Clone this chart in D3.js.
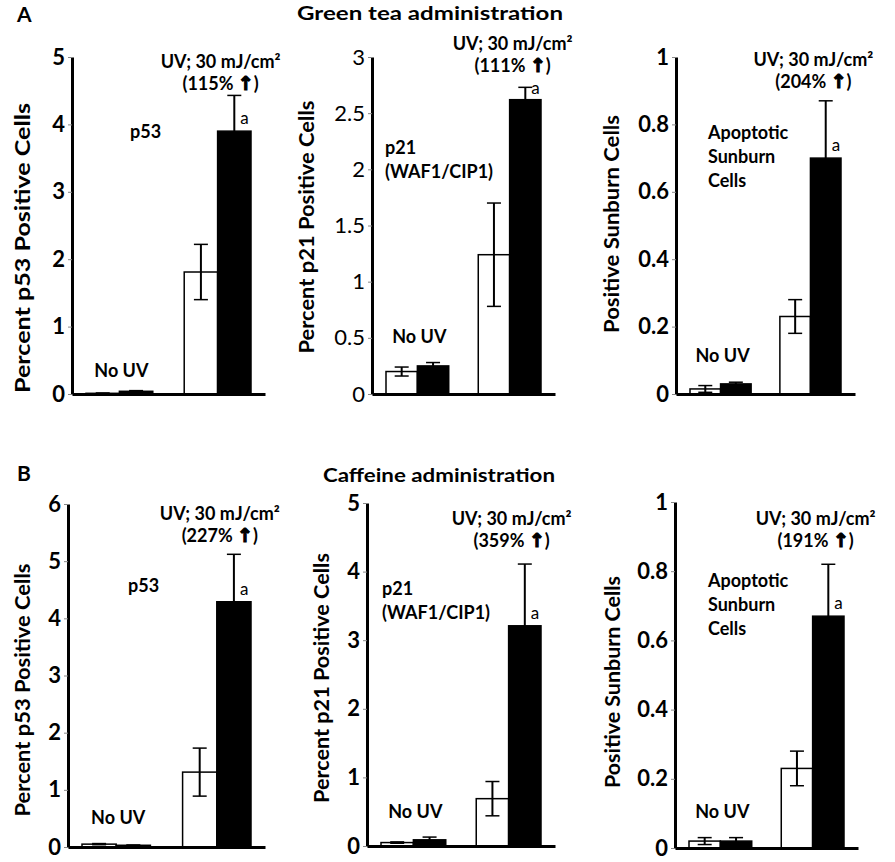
<!DOCTYPE html>
<html lang="en">
<head>
<meta charset="UTF-8">
<script src="https://d3js.org/d3.v7.min.js"></script>
<title>Green tea and caffeine administration</title>
<style>
  body { margin: 0; background: #fff; }
  svg { font-family: Lato, "Open Sans", sans-serif; }
</style>
</head>
<body>
<script>
// groups on the x axis
var groups = ["No UV", "UV"];

// tick labels
var ticksTeaP53 = [0, 1, 2, 3, 4, 5];
var ticksTeaP21 = [0, 0.5, 1, 1.5, 2, 2.5, 3];
var ticksTeaSun = [0, 0.2, 0.4, 0.6, 0.8, 1];
var ticksCafP53 = [0, 1, 2, 3, 4, 5, 6];
var ticksCafP21 = [0, 1, 2, 3, 4, 5];
var ticksCafSun = [0, 0.2, 0.4, 0.6, 0.8, 1];

// white bars (control) and black bars (treated), [No UV, UV]
var teaP53White = [0.01, 1.81], teaP53WhiteErr = [0.005, 0.41];
var teaP53Black = [0.04, 3.90], teaP53BlackErr = [0.01, 0.53];
var teaP21White = [0.20, 1.24], teaP21WhiteErr = [0.04, 0.46];
var teaP21Black = [0.25, 2.62], teaP21BlackErr = [0.03, 0.11];
var teaSunWhite = [0.015, 0.23], teaSunWhiteErr = [0.01, 0.05];
var teaSunBlack = [0.03, 0.70], teaSunBlackErr = [0.005, 0.17];
var cafP53White = [0.05, 1.31], cafP53WhiteErr = [0.01, 0.42];
var cafP53Black = [0.03, 4.29], cafP53BlackErr = [0.005, 0.83];
var cafP21White = [0.05, 0.69], cafP21WhiteErr = [0.01, 0.25];
var cafP21Black = [0.09, 3.21], cafP21BlackErr = [0.04, 0.90];
var cafSunWhite = [0.02, 0.23], cafSunWhiteErr = [0.01, 0.05];
var cafSunBlack = [0.02, 0.67], cafSunBlackErr = [0.01, 0.15];

// percent increase labels
var percents = ["115%", "111%", "204%", "227%", "359%", "191%"];

var width = 895, height = 862;

var svg = d3.select("body").append("svg")
  .attr("width", width)
  .attr("height", height);

var panels = [
  { x0: 72, x1: 265, yTop: 57, yBot: 394, ticks: ticksTeaP53, bold: true,
    white: teaP53White, whiteErr: teaP53WhiteErr, black: teaP53Black, blackErr: teaP53BlackErr,
    label: "Percent p53 Positive Cells", labelX: 30, labelY: 248, labelLen: 290,
    uvY: 68, noUvY: 377, marker: ["p53"], markerX: 130, markerY: 138, pct: percents[0] },
  { x0: 372, x1: 555, yTop: 57, yBot: 394, ticks: ticksTeaP21, bold: false,
    white: teaP21White, whiteErr: teaP21WhiteErr, black: teaP21Black, blackErr: teaP21BlackErr,
    label: "Percent p21 Positive Cells", labelX: 314, labelY: 227, labelLen: 253,
    uvY: 50, noUvY: 343, marker: ["p21", "(WAF1/CIP1)"], markerX: 385, markerY: 154, pct: percents[1] },
  { x0: 676, x1: 855, yTop: 57, yBot: 394, ticks: ticksTeaSun, bold: true,
    white: teaSunWhite, whiteErr: teaSunWhiteErr, black: teaSunBlack, blackErr: teaSunBlackErr,
    label: "Positive Sunburn Cells", labelX: 619, labelY: 224, labelLen: 218,
    uvY: 66, noUvY: 362, marker: ["Apoptotic", "Sunburn", "Cells"], markerX: 708, markerY: 139, pct: percents[2] },
  { x0: 68, x1: 265, yTop: 504, yBot: 847, ticks: ticksCafP53, bold: true,
    white: cafP53White, whiteErr: cafP53WhiteErr, black: cafP53Black, blackErr: cafP53BlackErr,
    label: "Percent p53 Positive Cells", labelX: 30, labelY: 690, labelLen: 253,
    uvY: 520, noUvY: 824, marker: ["p53"], markerX: 128, markerY: 592, pct: percents[3] },
  { x0: 367, x1: 555, yTop: 503, yBot: 846, ticks: ticksCafP21, bold: true,
    white: cafP21White, whiteErr: cafP21WhiteErr, black: cafP21Black, blackErr: cafP21BlackErr,
    label: "Percent p21 Positive Cells", labelX: 329, labelY: 678, labelLen: 250,
    uvY: 525, noUvY: 818, marker: ["p21", "(WAF1/CIP1)"], markerX: 382, markerY: 595, pct: percents[4] },
  { x0: 675, x1: 858, yTop: 502, yBot: 848, ticks: ticksCafSun, bold: true,
    white: cafSunWhite, whiteErr: cafSunWhiteErr, black: cafSunBlack, blackErr: cafSunBlackErr,
    label: "Positive Sunburn Cells", labelX: 620, labelY: 682, labelLen: 212,
    uvY: 525, noUvY: 818, marker: ["Apoptotic", "Sunburn", "Cells"], markerX: 708, markerY: 587, pct: percents[5] }
];

// figure letters and titles
svg.append("text").attr("x", 17).attr("y", 22).attr("font-size", 21).attr("font-weight", 700).text("A");
svg.append("text").attr("x", 17).attr("y", 481).attr("font-size", 21).attr("font-weight", 700).text("B");
svg.append("text").attr("x", 430).attr("y", 20).attr("text-anchor", "middle")
  .attr("font-size", 19).attr("font-weight", 700)
  .attr("textLength", 266).attr("lengthAdjust", "spacingAndGlyphs")
  .text("Green tea administration");
svg.append("text").attr("x", 439).attr("y", 482).attr("text-anchor", "middle")
  .attr("font-size", 19).attr("font-weight", 700)
  .attr("textLength", 232).attr("lengthAdjust", "spacingAndGlyphs")
  .text("Caffeine administration");

panels.forEach(function (p) {
  var g = svg.append("g");
  var ymax = p.ticks[p.ticks.length - 1];
  var y = d3.scaleLinear().domain([0, ymax]).range([p.yBot, p.yTop]);
  var x = d3.scaleBand().domain(groups).range([p.x0 + 14, p.x1 - 14]).paddingInner(0.32);
  var xs = d3.scaleBand().domain(["white", "black"]).range([0, x.bandwidth()]);

  // y axis
  var yAxis = g.append("g")
    .attr("transform", "translate(" + p.x0 + ",0)")
    .call(d3.axisLeft(y).tickValues(p.ticks).tickSize(4).tickSizeOuter(0).tickPadding(3)
      .tickFormat(function (d) { return String(d); }));
  yAxis.select(".domain").attr("stroke-width", 3);
  yAxis.selectAll(".tick line").attr("stroke", "#888").attr("stroke-width", 1);
  yAxis.selectAll(".tick text")
    .attr("font-family", "Lato, sans-serif")
    .attr("font-size", 22)
    .attr("font-weight", p.bold ? 700 : 400)
    .attr("fill", "#000");

  // x axis
  var xAxis = g.append("g")
    .attr("transform", "translate(0," + p.yBot + ")")
    .call(d3.axisBottom(d3.scaleLinear().range([p.x0, p.x1])).tickValues([]).tickSizeOuter(0));
  xAxis.select(".domain").attr("stroke-width", 3);

  var rows = groups.map(function (k, i) {
    return [
      { grp: k, s: "white", v: p.white[i], e: p.whiteErr[i] },
      { grp: k, s: "black", v: p.black[i], e: p.blackErr[i] }
    ];
  });
  var bars = [].concat.apply([], rows);

  // error bars (under the bars so the black ones hide their lower half)
  var cap = 7;
  var eb = g.selectAll("g.err").data(bars).enter().append("g").attr("class", "err");
  eb.append("line")
    .attr("x1", function (d) { return x(d.grp) + xs(d.s) + xs.bandwidth() / 2; })
    .attr("x2", function (d) { return x(d.grp) + xs(d.s) + xs.bandwidth() / 2; })
    .attr("y1", function (d) { return y(d.v - d.e); })
    .attr("y2", function (d) { return y(d.v + d.e); })
    .attr("stroke", "#000").attr("stroke-width", 2);
  [1, -1].forEach(function (sgn) {
    eb.append("line")
      .attr("x1", function (d) { return x(d.grp) + xs(d.s) + xs.bandwidth() / 2 - cap; })
      .attr("x2", function (d) { return x(d.grp) + xs(d.s) + xs.bandwidth() / 2 + cap; })
      .attr("y1", function (d) { return y(d.v + sgn * d.e); })
      .attr("y2", function (d) { return y(d.v + sgn * d.e); })
      .attr("stroke", "#000").attr("stroke-width", 1.5);
  });

  g.selectAll("rect.bar").data(bars).enter().append("rect")
    .attr("class", "bar")
    .attr("x", function (d) { return x(d.grp) + xs(d.s); })
    .attr("width", xs.bandwidth())
    .attr("y", function (d) { return y(d.v); })
    .attr("height", function (d) { return p.yBot - y(d.v); })
    .attr("fill", function (d) { return d.s === "white" ? "none" : "#000"; })
    .attr("stroke", "#000")
    .attr("stroke-width", 1.5);

  // "a" markers next to the black UV bar, kept clear of the percent line
  var uvBlack = rows[1][1];
  g.append("text")
    .attr("x", x("UV") + xs("black") + xs.bandwidth() / 2 + 6)
    .attr("y", Math.max(y(uvBlack.v) - 7, p.uvY + 44))
    .attr("font-size", 17)
    .text("a");

  // labels
  var uvCx = x("UV") + x.bandwidth() / 2 + 3;
  g.append("text").attr("x", uvCx).attr("y", p.uvY).attr("text-anchor", "middle")
    .attr("font-size", 18).attr("font-weight", 700).text("UV; 30 mJ/cm\u00B2");
  var pct = g.append("text").attr("x", uvCx).attr("y", p.uvY + 22).attr("text-anchor", "middle")
    .attr("font-size", 18).attr("font-weight", 700);
  pct.append("tspan").text("(" + p.pct + " ");
  pct.append("tspan").attr("font-family", "DejaVu Sans").attr("font-size", 19)
    .attr("stroke", "#000").attr("stroke-width", 1.2).text("\u2191");
  pct.append("tspan").text(")");

  g.append("text").attr("x", x("No UV") + x.bandwidth() / 2 + 2).attr("y", p.noUvY)
    .attr("text-anchor", "middle").attr("font-size", 18).attr("font-weight", 700).text("No UV");

  g.selectAll("text.marker").data(p.marker).enter().append("text")
    .attr("class", "marker")
    .attr("x", p.markerX)
    .attr("y", function (d, i) { return p.markerY + i * 24; })
    .attr("font-size", 18).attr("font-weight", 700)
    .text(function (d) { return d; });

  g.append("text")
    .attr("transform", "translate(" + p.labelX + "," + p.labelY + ") rotate(-90)")
    .attr("text-anchor", "middle")
    .attr("font-size", 20).attr("font-weight", 700)
    .attr("textLength", p.labelLen).attr("lengthAdjust", "spacingAndGlyphs")
    .text(p.label);
});
</script>
</body>
</html>
